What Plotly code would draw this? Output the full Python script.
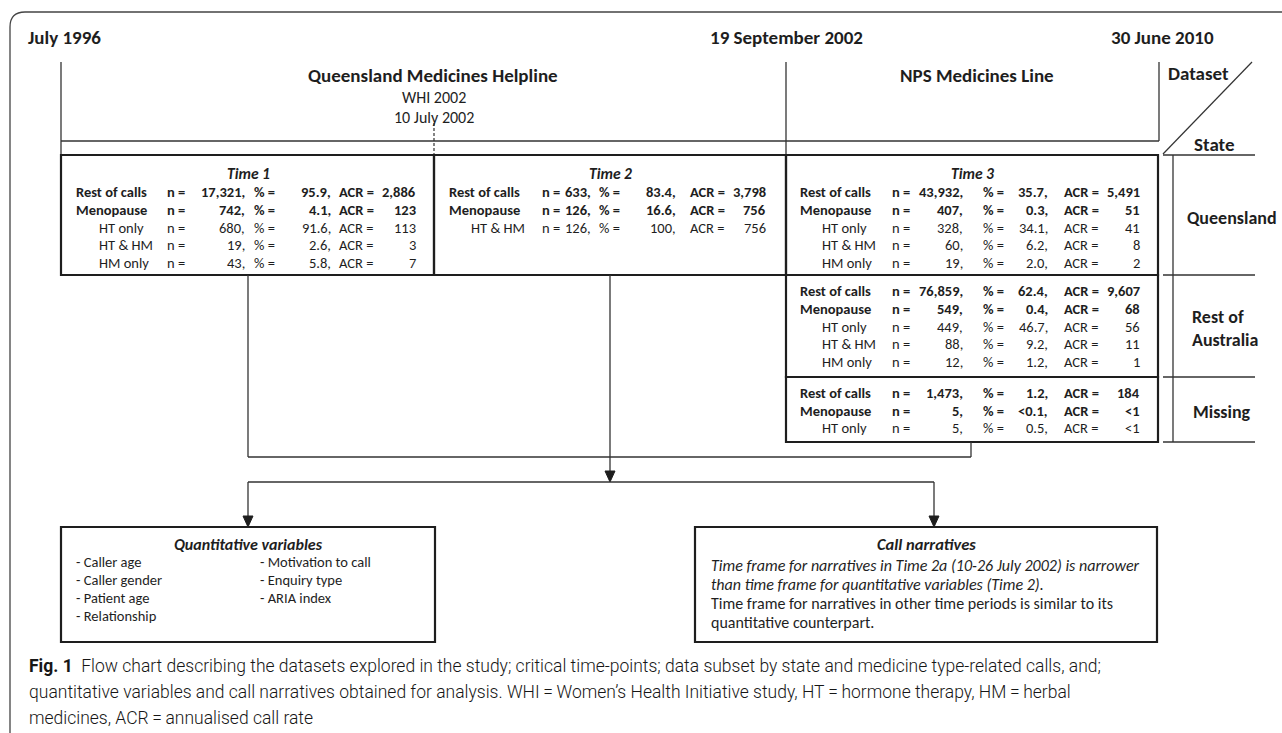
import plotly.graph_objects as go

# ---------------- data ----------------
dates = ["July 1996", "19 September 2002", "30 June 2010"]
datasets = ["Queensland Medicines Helpline", "NPS Medicines Line"]
whi_event = ["WHI 2002", "10 July 2002"]
time_titles = ["Time 1", "Time 2", "Time 3"]
states = ["Queensland", "Rest of<br>Australia", "Missing"]

t1_labels = ["Rest of calls", "Menopause", "HT only", "HT & HM", "HM only"]
t1_n = ["17,321", "742", "680", "19", "43"]
t1_pct = ["95.9", "4.1", "91.6", "2.6", "5.8"]
t1_acr = ["2,886", "123", "113", "3", "7"]

t2_labels = ["Rest of calls", "Menopause", "HT & HM"]
t2_n = ["633", "126", "126"]
t2_pct = ["83.4", "16.6", "100"]
t2_acr = ["3,798", "756", "756"]

qld_labels = ["Rest of calls", "Menopause", "HT only", "HT & HM", "HM only"]
qld_n = ["43,932", "407", "328", "60", "19"]
qld_pct = ["35.7", "0.3", "34.1", "6.2", "2.0"]
qld_acr = ["5,491", "51", "41", "8", "2"]

roa_labels = ["Rest of calls", "Menopause", "HT only", "HT & HM", "HM only"]
roa_n = ["76,859", "549", "449", "88", "12"]
roa_pct = ["62.4", "0.4", "46.7", "9.2", "1.2"]
roa_acr = ["9,607", "68", "56", "11", "1"]

mis_labels = ["Rest of calls", "Menopause", "HT only"]
mis_n = ["1,473", "5", "5"]
mis_pct = ["1.2", "<0.1", "0.5"]
mis_acr = ["184", "<1", "<1"]

quant_title = "Quantitative variables"
quant_col1 = ["- Caller age", "- Caller gender", "- Patient age", "- Relationship"]
quant_col2 = ["- Motivation to call", "- Enquiry type", "- ARIA index"]

narr_title = "Call narratives"
narr_italic = ["Time frame for narratives in Time 2a (10-26 July 2002) is narrower",
               "than time frame for quantitative variables (Time 2)."]
narr_plain = ["Time frame for narratives in other time periods is similar to its",
              "quantitative counterpart."]

caption = [
    "<b>Fig. 1</b>  Flow chart describing the datasets explored in the study; critical time-points; data subset by state and medicine type-related calls, and;",
    "quantitative variables and call narratives obtained for analysis. WHI\u2009=\u2009Women\u2019s Health Initiative study, HT\u2009=\u2009hormone therapy, HM\u2009=\u2009herbal",
    "medicines, ACR\u2009=\u2009annualised call rate",
]

# ---------------- styling ----------------
FONT = "Carlito, Lato, sans-serif"
INK = "#1e1e1e"
BODY = 14.5
HEAD = 19
W, H = 1282, 733

fig = go.Figure()
shapes = []
ann = []


def esc(s):
    return s.replace("&", "&amp;").replace("<", "&lt;").replace(">", "&gt;")


def line(x0, y0, x1, y1, w=1.3, dash="solid", color="#333"):
    shapes.append(dict(type="line", x0=x0, y0=y0, x1=x1, y1=y1, xref="x", yref="y",
                       line=dict(color=color, width=w, dash=dash)))


def rect(x0, y0, x1, y1, w=2.2):
    shapes.append(dict(type="rect", x0=x0, y0=y0, x1=x1, y1=y1, xref="x", yref="y",
                       line=dict(color=INK, width=w), fillcolor="rgba(0,0,0,0)"))


def arrow_head(x, y):
    shapes.append(dict(type="path", path=f"M {x-5},{y-11} L {x+5},{y-11} L {x},{y} Z",
                       xref="x", yref="y", fillcolor=INK, line=dict(color=INK, width=1)))


def text(x, y, s, size=BODY, anchor="left", bold=False, italic=False, family=FONT,
         color=INK, weight=None, yanchor="middle"):
    if weight is None:
        weight = "bold" if bold else "normal"
    ann.append(dict(x=x, y=y, xref="x", yref="y", text=s, showarrow=False,
                    xanchor=anchor, yanchor=yanchor, align=anchor if anchor != "center" else "center",
                    font=dict(family=family, size=size, color=color, weight=weight,
                              style="italic" if italic else "normal")))


def table(labels, ns, pcts, acrs, y0, cols, indent_from=2, dy=17.8):
    lx, ix, nx, nvx, px, pvx, ax, avx = cols
    for i, (lab, n, p, a) in enumerate(zip(labels, ns, pcts, acrs)):
        y = y0 + i * dy
        b = i < indent_from
        text(lx if b else ix, y, esc(lab), bold=b)
        text(nx, y, "n =", bold=b)
        text(nvx, y, esc(n) + ",", anchor="right", bold=b)
        text(px, y, "% =", bold=b)
        text(pvx, y, esc(p) + ",", anchor="right", bold=b)
        text(ax, y, "ACR =", bold=b)
        text(avx, y, esc(a), anchor="right", bold=b)


# ---------------- outer frame ----------------
shapes.append(dict(type="path", path="M 10,733 L 10,27 Q 10,12 25,12 L 1282,12",
                   xref="x", yref="y", line=dict(color="#444", width=1.3)))

# ---------------- timeline header ----------------
text(26, 37, dates[0], size=HEAD, bold=True)
text(786, 37, dates[1], size=HEAD, bold=True, anchor="center")
text(1162, 37, dates[2], size=HEAD, bold=True, anchor="center")

line(61, 62, 61, 155)
line(786, 62, 786, 155)
line(1159, 62, 1159, 141)
line(61, 141, 1159, 141)
line(434, 123, 434, 155, w=1.2, dash="3px,2px")
line(1163, 154, 1252, 62, w=1.2)

text(433, 75, datasets[0], size=HEAD, bold=True, anchor="center")
text(434, 97, whi_event[0], size=16, anchor="center")
text(434, 117, whi_event[1], size=16, anchor="center")
text(977, 75, datasets[1], size=HEAD, bold=True, anchor="center")
text(1166, 73, "Dataset", size=HEAD, bold=True)
text(1214, 144, "State", size=HEAD, bold=True, anchor="center")

# ---------------- time boxes ----------------
rect(61, 155, 434, 275)
rect(434, 155, 786, 275)
rect(786, 155, 1158, 275)
rect(786, 275, 1158, 377)
rect(786, 377, 1158, 442)

text(248, 173, "<i>" + time_titles[0] + "</i>", size=15.5, bold=True, anchor="center")
text(610, 173, "<i>" + time_titles[1] + "</i>", size=15.5, bold=True, anchor="center")
text(972, 173, "<i>" + time_titles[2] + "</i>", size=15.5, bold=True, anchor="center")

cols1 = (74, 97, 165, 247, 252, 333, 337, 418)
cols2 = (447, 469, 540, 593, 597, 678, 688, 768)
cols3 = (798, 820, 890, 965, 981, 1050, 1062, 1142)
table(t1_labels, t1_n, t1_pct, t1_acr, 192, cols1)
table(t2_labels, t2_n, t2_pct, t2_acr, 192, cols2)
table(qld_labels, qld_n, qld_pct, qld_acr, 192, cols3)
table(roa_labels, roa_n, roa_pct, roa_acr, 291, cols3)
table(mis_labels, mis_n, mis_pct, mis_acr, 393, cols3, dy=17.5)

# ---------------- state column ----------------
line(1173, 155, 1173, 442)
for yy in (155, 275, 377, 442):
    line(1163, yy, 1255, yy)
text(1185, 218, states[0], size=18, bold=True)
text(1190, 328, states[1], size=18, bold=True)
text(1191, 412, states[2], size=18, bold=True)

# ---------------- connectors ----------------
line(248, 275, 248, 457, w=1.3)
line(248, 457, 971, 457, w=1.3)
line(971, 442, 971, 457, w=1.3)
line(610, 275, 610, 472, w=1.3)
arrow_head(610, 482)
line(248, 482, 934, 482, w=1.3)
line(248, 482, 248, 517, w=1.3)
arrow_head(248, 527)
line(934, 482, 934, 517, w=1.3)
arrow_head(934, 527)

# ---------------- output boxes ----------------
rect(61, 527, 435, 642)
rect(695, 527, 1157, 642)

text(248, 544, "<i>" + quant_title + "</i>", size=16, bold=True, anchor="center")
for i, s in enumerate(quant_col1):
    text(74, 562 + i * 18, s, size=14.5)
for i, s in enumerate(quant_col2):
    text(258, 562 + i * 18, s, size=14.5)

text(926, 544, "<i>" + narr_title + "</i>", size=16.5, bold=True, anchor="center")
for i, s in enumerate(narr_italic):
    text(709, 565 + i * 19.3, s, size=16, italic=True)
for i, s in enumerate(narr_plain):
    text(709, 603 + i * 19.3, s, size=16)

# ---------------- caption ----------------
for i, s in enumerate(caption):
    text(27, 666 + i * 26, s, size=17.5, family="Roboto, sans-serif", weight=300, color="#161616")

fig.update_layout(
    width=W, height=H, margin=dict(l=0, r=0, t=0, b=0),
    paper_bgcolor="white", plot_bgcolor="white",
    xaxis=dict(range=[0, W], visible=False, fixedrange=True),
    yaxis=dict(range=[H, 0], visible=False, fixedrange=True),
    shapes=shapes, annotations=ann, showlegend=False,
)
fig.write_html("out.html", config={"displayModeBar": False},
               post_script="document.body.style.margin='0px';document.body.style.overflow='hidden';")
